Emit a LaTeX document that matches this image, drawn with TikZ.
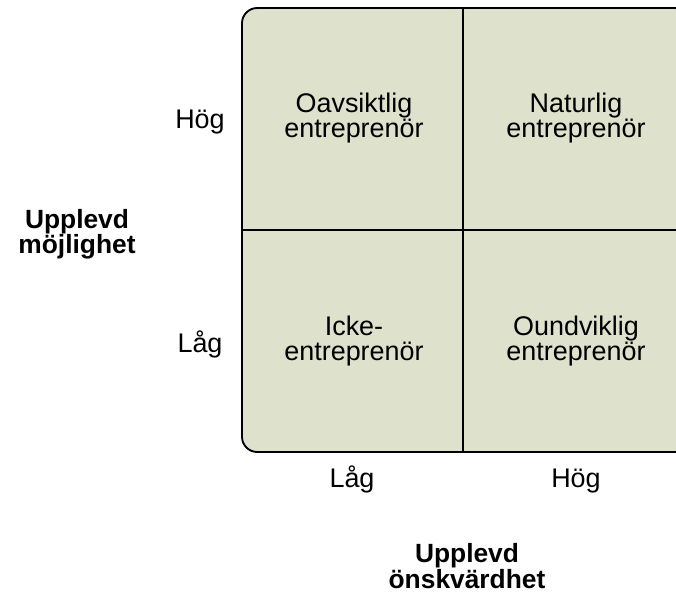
\documentclass[tikz,border=0pt]{standalone}
\usepackage{fontspec}
\setmainfont{Liberation Sans}
\usepackage{tikz}
\definecolor{quadfill}{RGB}{222,226,204}
\tikzset{
  quadbox/.style  = {draw=black, line width=1.6pt, fill=quadfill, rounded corners=13pt},
  quadline/.style = {black, line width=1.6pt},
  quadtxt/.style  = {align=center, font=\fontsize{23}{22}\selectfont, inner sep=0pt},
  axtxt/.style    = {anchor=base, font=\fontsize{23}{22}\selectfont, inner sep=0pt},
  axtitle/.style  = {align=center, font=\fontsize{22.5}{21.5}\selectfont\bfseries, inner sep=0pt}
}

\begin{document}
\begin{tikzpicture}[x=0.03cm,y=-0.03cm]
  \useasboundingbox (0,0) rectangle (676,597);
  \begin{scope}
    \clip (0,0) rectangle (676,597);
    \draw[quadbox] (242,8) rectangle (690,452);
    \coordinate (midtop) at (463,8);
    \coordinate (midbot) at (463,452);
    \coordinate (midleft) at (242,230);
    \coordinate (midright) at (690,230);
    \draw[quadline] (midtop) -- (midbot);
    \draw[quadline] (midleft) -- (midright);
  \end{scope}
  % quadrant labels
  \node[quadtxt] (oavs) at (354,118) {Oavsiktlig\\entreprenör};
  \node[quadtxt] (natur) at (576,118) {Naturlig\\entreprenör};
  \node[quadtxt] (icke) at (354,341) {Icke-\\entreprenör};
  \node[quadtxt] (ound) at (576,341) {Oundviklig\\entreprenör};
  % axis levels (on a common baseline)
  \node[axtxt] (yhog) at (200,129) {Hög};
  \node[axtxt] (ylag) at (200,352) {Låg};
  \node[axtxt] (xlag) at (352,487) {Låg};
  \node[axtxt] (xhog) at (576,487) {Hög};
  % axis titles
  \node[axtitle] (ytitle) at (77,234) {Upplevd\\möjlighet};
  \node[axtitle] (xtitle) at (467,566) {Upplevd\\önskvärdhet};
\end{tikzpicture}
\end{document}
